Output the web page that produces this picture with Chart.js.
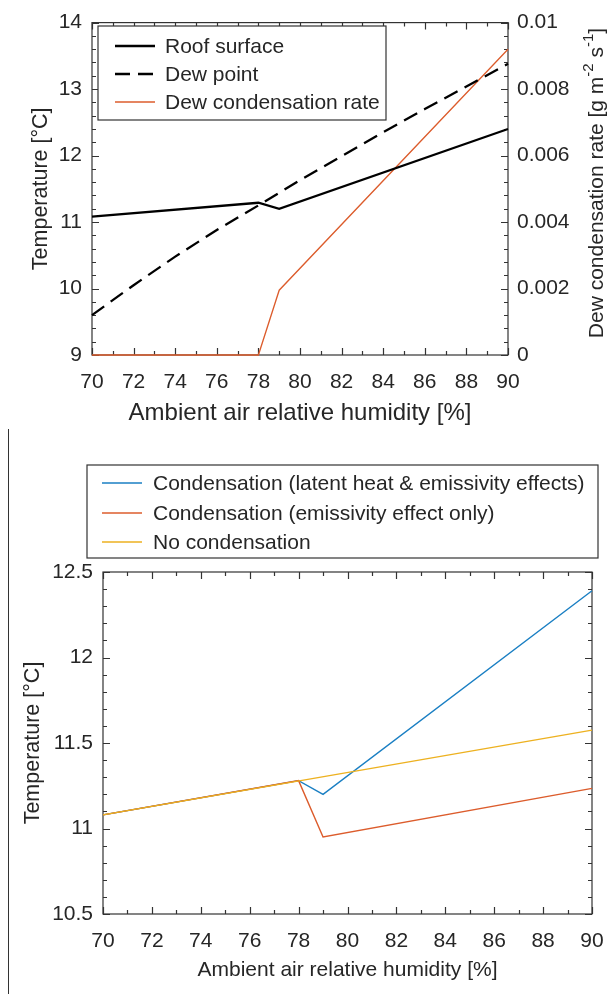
<!DOCTYPE html>
<html>
<head>
<meta charset="utf-8">
<title>Roof surface temperature and dew condensation</title>
<script src="https://cdn.jsdelivr.net/npm/chart.js@4.4.1/dist/chart.umd.min.js"></script>
<style>
  html, body { margin: 0; padding: 0; background: #fff; }
  #wrap { position: relative; width: 611px; height: 994px; overflow: hidden; }
  #topChart { position: absolute; left: 0; top: 0; }
  #bottomChart { position: absolute; left: 0; top: 440px; }
  .divider { position: absolute; left: 8px; top: 429px; width: 1px; height: 565px; background: #333; }
</style>
</head>
<body>
<div id="wrap">
  <canvas id="topChart" width="611" height="430"></canvas>
  <div class="divider"></div>
  <canvas id="bottomChart" width="611" height="554"></canvas>
</div>
<script>
// ---- tick labels ----
const humidityTicks = [70, 72, 74, 76, 78, 80, 82, 84, 86, 88, 90];
const tempTicksTop = [9, 10, 11, 12, 13, 14];
const rateTicks = [0, 0.002, 0.004, 0.006, 0.008, 0.01];
const tempTicksBottom = [10.5, 11, 11.5, 12, 12.5];

// ---- top panel: roof surface vs dew point ----
const roofRH = [70, 78, 79, 90];
const roofTemp = [11.08, 11.29, 11.2, 12.4];
const dewRH = [70, 72, 74, 76, 78, 80, 82, 84, 86, 88, 90];
const dewTemp = [9.6, 10.05, 10.48, 10.88, 11.25, 11.63, 11.99, 12.35, 12.7, 13.04, 13.38];
const rateRH = [70, 78, 79, 90];
const rateValues = [0, 0, 0.00195, 0.0092];

// ---- bottom panel: condensation cases ----
const caseRH = [70, 78, 79, 90];
const latentEmissTemp = [11.08, 11.28, 11.2, 12.39];
const emissOnlyTemp = [11.08, 11.28, 10.95, 11.235];
const noCondRH = [70, 90];
const noCondTemp = [11.08, 11.575];

const FONT = "'Liberation Sans', Arial, Helvetica, sans-serif";
const TEXT = '#262626';
const AXIS = '#333333';
const BLUE = '#1a7fc3';
const ORANGE = '#DC5C2C';
const YELLOW = '#EDB120';

Chart.defaults.font.family = FONT;
Chart.defaults.color = TEXT;

const pts = (xs, ys) => xs.map((x, i) => ({ x: x, y: ys[i] }));
const setTicks = arr => scale => { scale.ticks = arr.map(v => ({ value: v })); };
const steps = (min, max, step) => {
    const out = [];
    const n = Math.round((max - min) / step);
    for (let i = 0; i <= n; i++) out.push(min + i * step);
    return out;
};
const noGrid = { display: false, drawTicks: false };

// box around the plot with inward tick marks on all four sides
const axesBox = {
    id: 'axesBox',
    beforeDatasetsDraw(chart, args, opts) {
        const { ctx, chartArea: a } = chart;
        const xs = chart.scales.x, ys = chart.scales.y;
        ctx.save();
        ctx.strokeStyle = AXIS;
        ctx.lineWidth = 1.2;
        ctx.beginPath();
        steps(xs.min, xs.max, opts.xMinor).forEach((v, i) => {
            const len = i % 2 === 0 ? 7 : 4;
            const px = Math.round(xs.getPixelForValue(v)) + 0.5;
            ctx.moveTo(px, a.bottom); ctx.lineTo(px, a.bottom - len);
            ctx.moveTo(px, a.top); ctx.lineTo(px, a.top + len);
        });
        steps(ys.min, ys.max, opts.yMinor).forEach((v, i) => {
            const len = i % opts.yPer === 0 ? 7 : 4;
            const py = Math.round(ys.getPixelForValue(v)) + 0.5;
            ctx.moveTo(a.left, py); ctx.lineTo(a.left + len, py);
            ctx.moveTo(a.right, py); ctx.lineTo(a.right - len, py);
        });
        ctx.stroke();
        ctx.strokeRect(a.left, a.top, a.right - a.left, a.bottom - a.top);
        ctx.restore();
    }
};

// framed legend with line samples
const boxLegend = {
    id: 'boxLegend',
    afterDraw(chart, args, opts) {
        const ctx = chart.ctx;
        const [bx, by, bw, bh] = opts.box;
        ctx.save();
        ctx.fillStyle = '#fff';
        ctx.fillRect(bx, by, bw, bh);
        ctx.strokeStyle = AXIS;
        ctx.lineWidth = 1.2;
        ctx.strokeRect(bx, by, bw, bh);
        ctx.font = opts.fontSize + 'px ' + FONT;
        ctx.textBaseline = 'middle';
        chart.data.datasets.forEach((ds, i) => {
            const y = opts.rows[i];
            ctx.strokeStyle = ds.borderColor;
            ctx.lineWidth = ds.borderWidth;
            ctx.setLineDash(ds.borderDash || []);
            ctx.beginPath();
            ctx.moveTo(opts.lineX[0], y);
            ctx.lineTo(opts.lineX[1], y);
            ctx.stroke();
            ctx.setLineDash([]);
            ctx.fillStyle = TEXT;
            ctx.fillText(ds.label, opts.textX, y + 1);
        });
        ctx.restore();
    }
};

// right axis title with superscript units
const rateTitle = {
    id: 'rateTitle',
    afterDraw(chart, args, opts) {
        if (!opts.x) return;
        const ctx = chart.ctx;
        const parts = [
            ['Dew condensation rate [g m', false], ['-2', true],
            [' s', false], ['-1', true], [']', false]
        ];
        const big = opts.fontSize + 'px ' + FONT;
        const small = Math.round(opts.fontSize * 0.7) + 'px ' + FONT;
        ctx.save();
        let total = 0;
        parts.forEach(p => { ctx.font = p[1] ? small : big; total += ctx.measureText(p[0]).width; });
        ctx.translate(opts.x, opts.y);
        ctx.rotate(-Math.PI / 2);
        ctx.fillStyle = TEXT;
        ctx.textBaseline = 'middle';
        let cx = -total / 2;
        parts.forEach(p => {
            ctx.font = p[1] ? small : big;
            ctx.fillText(p[0], cx, p[1] ? -8 : 0);
            cx += ctx.measureText(p[0]).width;
        });
        ctx.restore();
    }
};

// ---- top chart ----
new Chart(document.getElementById('topChart'), {
    type: 'line',
    data: {
        datasets: [{
            label: 'Roof surface',
            data: pts(roofRH, roofTemp),
            borderColor: '#000',
            borderWidth: 2.3,
            yAxisID: 'y'
        }, {
            label: 'Dew point',
            data: pts(dewRH, dewTemp),
            borderColor: '#000',
            borderWidth: 2.3,
            borderDash: [15, 8],
            yAxisID: 'y'
        }, {
            label: 'Dew condensation rate',
            data: pts(rateRH, rateValues),
            borderColor: ORANGE,
            borderWidth: 1.3,
            yAxisID: 'y1'
        }]
    },
    options: {
        responsive: false,
        animation: false,
        events: [],
        clip: false,
        elements: { point: { radius: 0 }, line: { tension: 0 } },
        layout: { padding: { top: 19, left: 0, right: 0, bottom: 0 } },
        scales: {
            x: {
                type: 'linear',
                min: 70, max: 90,
                grid: noGrid, border: { display: false },
                afterBuildTicks: setTicks(humidityTicks),
                afterFit: s => { s.height = 75; },
                ticks: { font: { size: 21 }, padding: 15, maxRotation: 0, callback: v => String(v) },
                title: { display: true, text: 'Ambient air relative humidity [%]', font: { size: 24 }, padding: { top: 0, bottom: 2.5 } }
            },
            y: {
                position: 'left',
                min: 9, max: 14,
                grid: noGrid, border: { display: false },
                afterBuildTicks: setTicks(tempTicksTop),
                afterFit: s => { s.width = 92; },
                ticks: { font: { size: 21 }, padding: 10, callback: v => String(v) },
                title: { display: true, text: 'Temperature [°C]', font: { size: 21.5 }, padding: { top: 28, bottom: 0 } }
            },
            y1: {
                position: 'right',
                min: 0, max: 0.01,
                grid: noGrid, border: { display: false },
                afterBuildTicks: setTicks(rateTicks),
                afterFit: s => { s.width = 103; },
                ticks: { font: { size: 21 }, padding: 9, callback: v => String(+v.toFixed(4)) }
            }
        },
        plugins: {
            legend: { display: false },
            tooltip: { enabled: false },
            axesBox: { xMinor: 1, yMinor: 0.2, yPer: 5 },
            boxLegend: { box: [98, 26, 288, 94], rows: [46, 74, 102], lineX: [115, 155], textX: 165, fontSize: 21 },
            rateTitle: { x: 597, y: 183, fontSize: 21 }
        }
    },
    plugins: [axesBox, boxLegend, rateTitle]
});

// ---- bottom chart ----
new Chart(document.getElementById('bottomChart'), {
    type: 'line',
    data: {
        datasets: [{
            label: 'Condensation (latent heat & emissivity effects)',
            data: pts(caseRH, latentEmissTemp),
            borderColor: BLUE,
            borderWidth: 1.4,
            order: 3
        }, {
            label: 'Condensation (emissivity effect only)',
            data: pts(caseRH, emissOnlyTemp),
            borderColor: ORANGE,
            borderWidth: 1.4,
            order: 2
        }, {
            label: 'No condensation',
            data: pts(noCondRH, noCondTemp),
            borderColor: YELLOW,
            borderWidth: 1.4,
            order: 1
        }]
    },
    options: {
        responsive: false,
        animation: false,
        events: [],
        clip: false,
        elements: { point: { radius: 0 }, line: { tension: 0 } },
        layout: { padding: { top: 132, left: 0, right: 19, bottom: 0 } },
        scales: {
            x: {
                type: 'linear',
                min: 70, max: 90,
                // hidden tick length keeps the labels low without widening the right margin
                grid: { display: false, drawTicks: true, tickLength: 12 }, border: { display: false },
                afterBuildTicks: setTicks(humidityTicks),
                afterFit: s => { s.height = 80; },
                ticks: { font: { size: 21 }, padding: 3, maxRotation: 0, callback: v => String(v) },
                title: { display: true, text: 'Ambient air relative humidity [%]', font: { size: 21 }, padding: { top: 0, bottom: 11 } }
            },
            y: {
                position: 'left',
                min: 10.5, max: 12.5,
                grid: noGrid, border: { display: false },
                afterBuildTicks: setTicks(tempTicksBottom),
                afterFit: s => { s.width = 103; },
                ticks: { font: { size: 21 }, padding: 10, callback: v => String(v) },
                title: { display: true, text: 'Temperature [°C]', font: { size: 21.5 }, padding: { top: 20, bottom: 0 } }
            }
        },
        plugins: {
            legend: { display: false },
            tooltip: { enabled: false },
            axesBox: { xMinor: 1, yMinor: 0.1, yPer: 5 },
            boxLegend: { box: [87, 25, 511, 93], rows: [43, 73, 102], lineX: [102, 142], textX: 153, fontSize: 21 },
            rateTitle: {}
        }
    },
    plugins: [axesBox, boxLegend, rateTitle]
});
</script>
</body>
</html>
